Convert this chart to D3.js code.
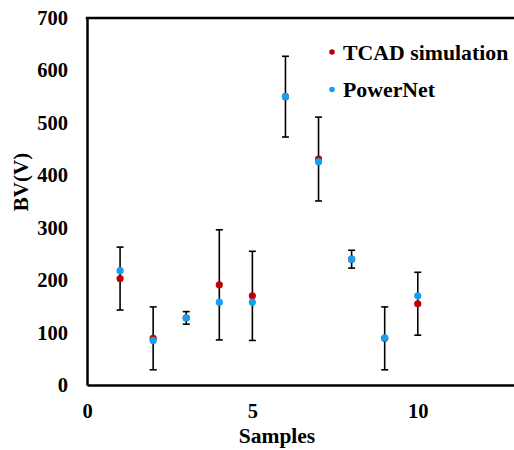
<!DOCTYPE html>
<html>
<head>
<meta charset="utf-8">
<script src="https://cdn.jsdelivr.net/npm/d3@7"></script>
<style>
  body { margin: 0; background: #fff; }
  svg text { font-family: "Liberation Serif", "Times New Roman", serif; font-weight: bold; fill: #000; }
</style>
</head>
<body>
<svg id="chart" width="514" height="450"></svg>
<script>
/*****************************************
*   Data
*****************************************/
const samples = [1, 2, 3, 4, 5, 6, 7, 8, 9, 10];
const tcad = [203, 89, 128, 191, 170, 550, 431, 240, 89, 155];
const powernet = [218, 85, 128, 158, 158, 550, 426, 240, 90, 170];
const errors = [60, 60, 12, 105, 85, 77, 80, 17, 60, 60];
const xTicks = [0, 5, 10];
const yTicks = [0, 100, 200, 300, 400, 500, 600, 700];
const seriesNames = ['TCAD simulation', 'PowerNet'];

/*****************************************
*   Layout
*****************************************/
const LEFT = 87;
const RIGHT = 517;
const TOP = 18;
const BOTTOM = 385;
const RED = '#c00000';
const BLUE = '#14a0f2';

var svg = d3.select('#chart');

var xScale = d3.scaleLinear().domain([0, 13]).range([LEFT, RIGHT]);
var yScale = d3.scaleLinear().domain([0, 700]).range([BOTTOM, TOP]);

// axes, no tick marks (Excel style)
var xAxis = d3.axisBottom(xScale).tickValues(xTicks).tickSize(0).tickPadding(18);
var yAxis = d3.axisLeft(yScale).tickValues(yTicks).tickSize(0).tickPadding(19);

var gx = svg.append('g')
    .attr('transform', 'translate(0,' + BOTTOM + ')')
    .call(xAxis);
var gy = svg.append('g')
    .attr('transform', 'translate(' + LEFT + ',0)')
    .call(yAxis);

[gx, gy].forEach(function(g) {
    g.select('.domain').attr('stroke', '#000').attr('stroke-width', 2.5);
    g.selectAll('text').style('font-size', '20.5px');
});

// top border of the plot area
svg.append('line')
    .attr('x1', LEFT - 1.25).attr('x2', RIGHT)
    .attr('y1', TOP).attr('y2', TOP)
    .attr('stroke', '#000').attr('stroke-width', 2.5);

// axis titles
svg.append('text')
    .attr('x', 277).attr('y', 443)
    .attr('text-anchor', 'middle')
    .style('font-size', '21.5px')
    .text('Samples');
svg.append('text')
    .attr('transform', 'translate(28,182) rotate(-90)')
    .attr('text-anchor', 'middle')
    .style('font-size', '21px')
    .text('BV(V)');

/*****************************************
*   Error bars (around TCAD values)
*****************************************/
var bars = svg.append('g')
    .selectAll('g')
    .data(samples)
    .enter()
    .append('g')
    .attr('stroke', '#000')
    .attr('stroke-width', 1.6);

bars.append('line')
    .attr('x1', (d) => xScale(d)).attr('x2', (d) => xScale(d))
    .attr('y1', (d, i) => yScale(tcad[i] + errors[i]))
    .attr('y2', (d, i) => yScale(tcad[i] - errors[i]));
bars.append('line')
    .attr('x1', (d) => xScale(d) - 3.5).attr('x2', (d) => xScale(d) + 3.5)
    .attr('y1', (d, i) => yScale(tcad[i] + errors[i]))
    .attr('y2', (d, i) => yScale(tcad[i] + errors[i]));
bars.append('line')
    .attr('x1', (d) => xScale(d) - 3.5).attr('x2', (d) => xScale(d) + 3.5)
    .attr('y1', (d, i) => yScale(tcad[i] - errors[i]))
    .attr('y2', (d, i) => yScale(tcad[i] - errors[i]));

/*****************************************
*   Points
*****************************************/
svg.append('g')
    .selectAll('circle')
    .data(samples)
    .enter()
    .append('circle')
    .attr('cx', (d) => xScale(d))
    .attr('cy', (d, i) => yScale(tcad[i]))
    .attr('r', 3.6)
    .attr('fill', RED);

svg.append('g')
    .selectAll('circle')
    .data(samples)
    .enter()
    .append('circle')
    .attr('cx', (d) => xScale(d))
    .attr('cy', (d, i) => yScale(powernet[i]))
    .attr('r', 3.6)
    .attr('fill', BLUE);

/*****************************************
*   Legend
*****************************************/
var legend = svg.append('g')
    .selectAll('g')
    .data(seriesNames)
    .enter()
    .append('g')
    .attr('transform', (d, i) => 'translate(332,' + (52 + i * 37.5) + ')');

legend.append('circle')
    .attr('r', 2.8)
    .attr('fill', (d, i) => i == 0 ? RED : BLUE);
legend.append('text')
    .attr('x', 11).attr('y', 7.5)
    .style('font-size', '21.8px')
    .text((d) => d);
</script>
</body>
</html>
